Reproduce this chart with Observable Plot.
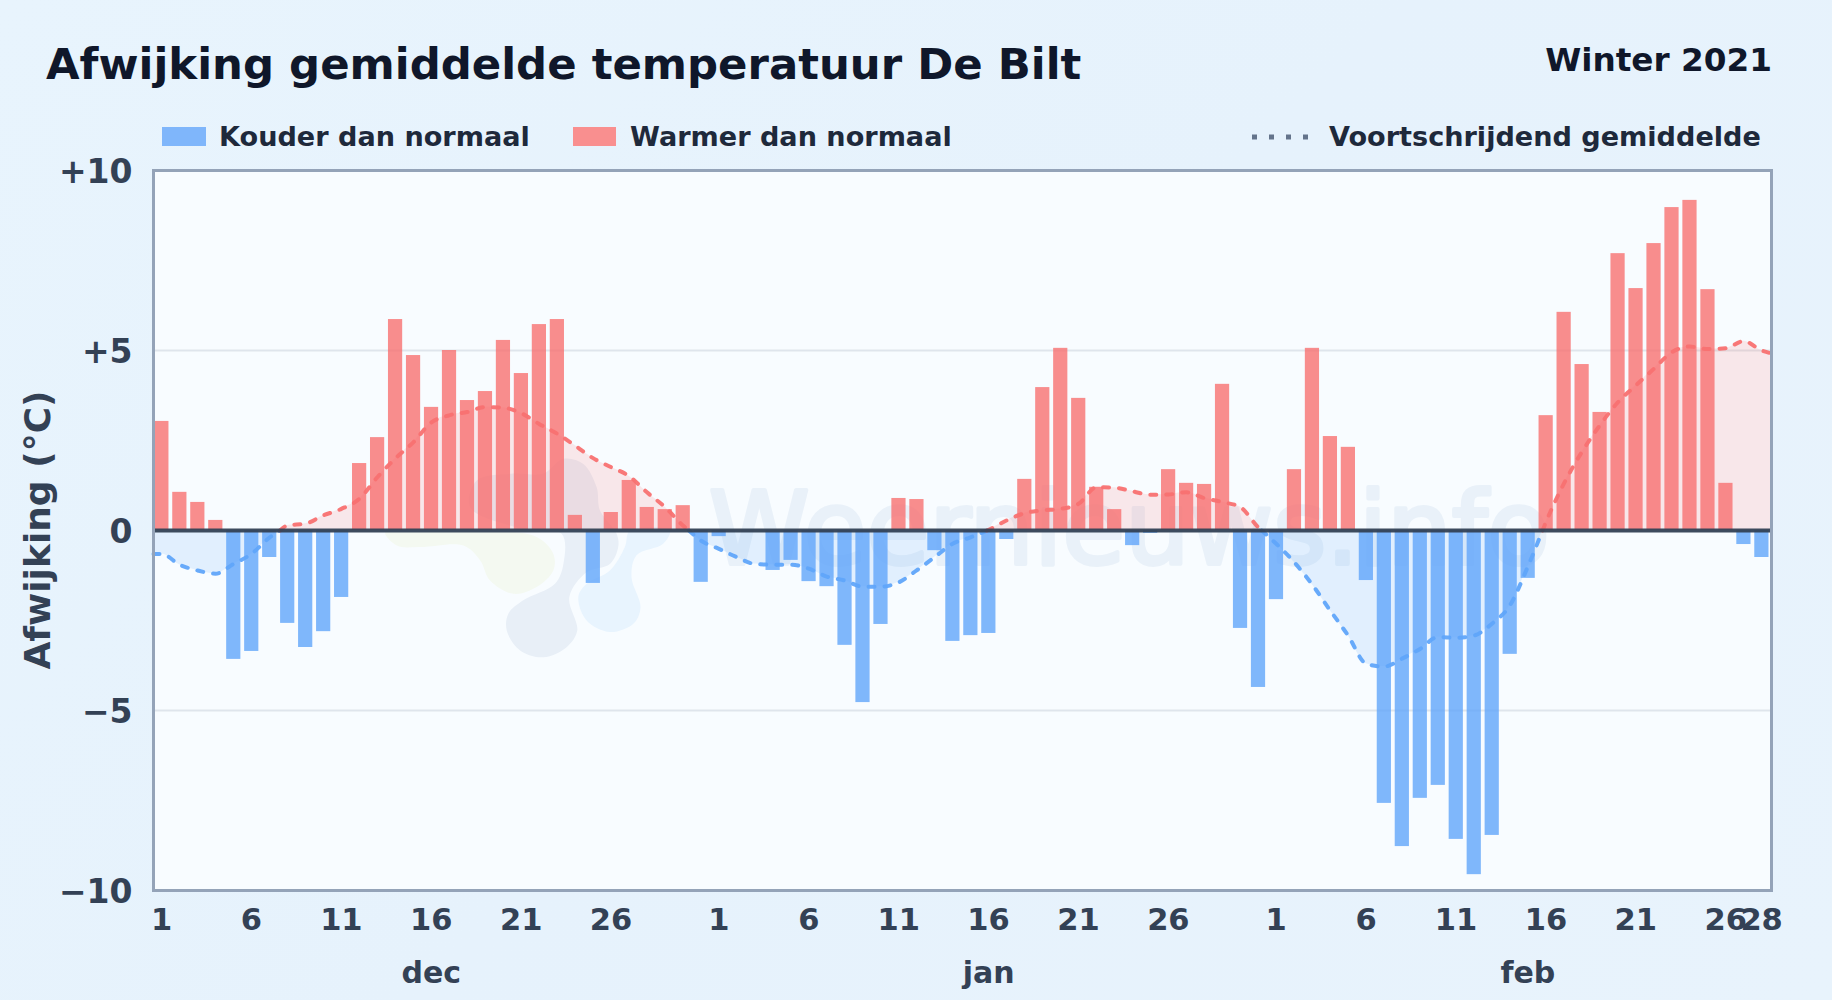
<!DOCTYPE html>
<html lang="nl">
<head>
<meta charset="utf-8">
<title>Afwijking gemiddelde temperatuur De Bilt</title>
<script src="https://cdn.jsdelivr.net/npm/d3@7"></script>
<script src="https://cdn.jsdelivr.net/npm/@observablehq/plot@0.6"></script>
<style>
  html, body { margin: 0; padding: 0; }
  body {
    width: 1832px; height: 1000px; position: relative; overflow: hidden;
    background: linear-gradient(135deg, #e8f4fd 0%, #e6f2fc 50%, #e8f3fc 100%);
    font-family: "DejaVu Sans", sans-serif; font-weight: 700;
  }
  .t { position: absolute; white-space: nowrap; line-height: 1; }
  #title { left: 46px; top: 43px; font-size: 43.4px; color: #0f172a; }
  #season { right: 60px; top: 44px; font-size: 32.7px; color: #0f172a; }
  .leg { top: 123px; font-size: 27.1px; color: #1e293b; }
  .sw { position: absolute; top: 127px; height: 19px; }
  #ylab { left: 38px; top: 530px; font-size: 36px; color: #334155; transform: translate(-50%, -50%) rotate(-90deg); }
  #chart { position: absolute; left: 0; top: 0; }
  #dots { position: absolute; left: 1252px; top: 132px; }
</style>
</head>
<body>
<div id="chart"></div>
<div class="t" id="title">Afwijking gemiddelde temperatuur De Bilt</div>
<div class="t" id="season">Winter 2021</div>
<div class="sw" style="left:162px;width:44px;background:#7fb6fb"></div>
<div class="t leg" style="left:219px">Kouder dan normaal</div>
<div class="sw" style="left:573px;width:43px;background:#f98f8f"></div>
<div class="t leg" style="left:630px">Warmer dan normaal</div>
<svg id="dots" width="62" height="10"><line x1="0" x2="62" y1="5" y2="5" stroke="#64748b" stroke-width="5" stroke-dasharray="5 12"/></svg>
<div class="t leg" style="left:1329px">Voortschrijdend gemiddelde</div>
<div class="t" id="ylab">Afwijking (°C)</div>
<script>
// Daily deviation (°C), 1 Dec – 28 Feb
const december = [3.03,1.06,0.78,0.28,-3.58,-3.36,-0.75,-2.58,-3.25,-2.81,-1.86,1.86,2.58,5.86,4.86,3.42,5.0,3.61,3.86,5.28,4.36,5.72,5.86,0.42,-1.47,0.5,1.39,0.64,0.58,0.69,-1.44];
const january  = [-0.17,0,0,-1.11,-0.83,-1.42,-1.56,-3.19,-4.78,-2.61,0.89,0.86,-0.56,-3.08,-2.92,-2.86,-0.25,1.42,3.97,5.06,3.67,1.2,0.58,-0.42,-0.08,1.69,1.31,1.28,4.06,-2.72,-4.36];
const february = [-1.92,1.69,5.06,2.61,2.31,-1.39,-7.58,-8.78,-7.44,-7.08,-8.58,-9.56,-8.47,-3.44,-1.33,3.19,6.06,4.61,3.28,7.69,6.72,7.97,8.97,9.17,6.69,1.31,-0.39,-0.75];
// Moving average (°C), read per day
const movingAverage = [-0.65,-0.95,-1.11,-1.2,-0.93,-0.65,-0.2,0.14,0.19,0.42,0.6,0.88,1.48,2.0,2.45,3.0,3.2,3.29,3.43,3.41,3.26,2.96,2.69,2.36,2.01,1.76,1.51,1.06,0.65,0.14,-0.28,
  -0.51,-0.74,-0.93,-0.95,-0.95,-1.06,-1.28,-1.39,-1.56,-1.56,-1.44,-1.11,-0.74,-0.37,-0.19,0.02,0.28,0.48,0.56,0.6,0.74,1.2,1.19,1.09,0.99,1.0,1.06,0.9,0.79,0.65,
  0.09,-0.37,-0.88,-1.5,-2.22,-2.92,-3.7,-3.78,-3.56,-3.29,-2.96,-2.98,-2.92,-2.59,-2.08,-1.0,0.23,1.3,2.18,2.92,3.56,4.03,4.49,4.95,5.11,5.04,5.06,5.26,5.0];
// Axis labels
const tickDays = [1,6,11,16,21,26, 1,6,11,16,21,26, 1,6,11,16,21,26,28];
const tickIndex = [0,5,10,15,20,25, 31,36,41,46,51,56, 62,67,72,77,82,87,89];
const months = ["dec","jan","feb"];
const monthIndex = [15,46,76];
const yTicks = [-10,-5,0,5,10];
const yLabels = ["\u221210","\u22125","0","+5","+10"];
// Watermark logo outlines
const logoSlate = [[22.7,-.09],[22.8,-.93],[22.33,-1.48],[20.57,-1.94],[19.74,-2.31],[19.65,-2.78],[20.39,-3.33],[21.69,-3.52],[22.98,-3.24],[23.57,-2.78],[23.13,-1.85],[24.09,-1.16],[25.39,-.93],[25.85,-.46],[25.76,-.09],[24.83,.56],[24.65,1.2],[23.91,1.85],[22.8,1.99],[21.69,1.58],[20.02,1.58],[17.98,1.39],[17.61,.65],[20.2,.09]];
const logoGreen = [[12.89,-.05],[13.54,-.42],[14.83,-.46],[17.24,-.42],[18.17,-.83],[18.72,-1.39],[20.02,-1.76],[21.31,-1.57],[22.24,-1.11],[22.24,-.65],[21.31,-.18],[17.61,0]];
const logoBlue = [[23.63,-1.85],[24.09,-2.5],[25.39,-2.82],[26.69,-2.59],[27.09,-2.13],[26.59,-1.3],[26.87,-.69],[28.35,-.37],[28.72,0],[26.5,0],[26.22,-.46],[25.39,-1.11],[24.09,-1.48]];

const RED = "#f87171", BLUE = "#60a5fa", BAR_W = 0.79, MID = 0.45;
const values = [...december, ...january, ...february];
const bars = values.map((v, i) => ({i, v})).filter(d => d.v !== 0);

// Moving-average line runs edge to edge and is split at each zero crossing
const maPts = [{x: 0, y: movingAverage[0]}, ...movingAverage.map((y, i) => ({x: i + MID, y})), {x: 90, y: movingAverage[89] - 0.08}];
const segs = [];
let seg = 0;
maPts.forEach((p, k) => {
  const q = maPts[k - 1];
  if (q && q.y * p.y < 0) {
    const xz = q.x + (p.x - q.x) * q.y / (q.y - p.y);
    segs.push({x: xz, y: 0, seg, sign: q.y < 0 ? "neg" : "pos"});
    seg++;
    segs.push({x: xz, y: 0, seg, sign: p.y < 0 ? "neg" : "pos"});
  }
  segs.push({x: p.x, y: p.y, seg, sign: p.y < 0 ? "neg" : "pos"});
});
const color = s => s === "neg" ? BLUE : RED;
const blob = (pts, fill) => Plot.line(pts, {x: d => d[0], y: d => d[1], curve: "catmull-rom-closed", fill, stroke: "none"});

const chart = Plot.plot({
  width: 1832, height: 1000,
  marginLeft: 153, marginRight: 61, marginTop: 170, marginBottom: 110,
  style: {background: "transparent", fontFamily: "'DejaVu Sans', sans-serif", fontWeight: 700, overflow: "visible"},
  x: {domain: [0, 90], axis: null},
  y: {domain: [-10, 10], axis: null},
  marks: [
    Plot.frame({fill: "#f8fcff", stroke: "none"}),
    Plot.text(["Weernieuws.info"], {x: [31], y: [0], text: d => d, dx: -2, dy: 1, textAnchor: "start", fontSize: 102, fontWeight: 400, fill: "#e9f1f9", stroke: "#e9f1f9", strokeWidth: 4}),
    blob(logoGreen, "#f4f9f1"),
    blob(logoSlate, "#e8eff7"),
    blob(logoBlue, "#e8f4fe"),
    Plot.ruleY([5, -5], {stroke: "#dfe5ec", strokeWidth: 2}),
    Plot.areaY(segs, {x: "x", y1: 0, y2: "y", z: "seg", fill: d => color(d.sign), fillOpacity: 0.15, curve: "monotone-x"}),
    Plot.rectY(bars, {x1: d => d.i + 0.07, x2: d => d.i + 0.07 + BAR_W, y1: 0, y2: "v", fill: d => d.v < 0 ? BLUE : RED, fillOpacity: 0.8}),
    Plot.line(segs, {x: "x", y: "y", z: "seg", stroke: d => color(d.sign), strokeWidth: 4, strokeDasharray: "6 10", strokeLinecap: "round", strokeOpacity: 0.95, curve: "monotone-x"}),
    Plot.ruleY([0], {stroke: "#334155", strokeWidth: 4, strokeOpacity: 0.95}),
    Plot.frame({stroke: "#94a3b8", strokeWidth: 3}),
    Plot.axisY({ticks: yTicks, tickSize: 0, tickPadding: 21, dy: 1.5, tickFormat: d => yLabels[yTicks.indexOf(d)], fontSize: 33, fill: "#334155", label: null}),
    Plot.axisX({ticks: tickIndex.map(i => i + MID), tickSize: 0, tickPadding: 18, tickFormat: (d, k) => tickDays[k], fontSize: 30.5, fill: "#334155", label: null}),
    Plot.text(months, {x: (d, k) => monthIndex[k] + MID, y: () => -10, text: d => d, dy: 83, fontSize: 30, fill: "#334155"})
  ]
});
document.getElementById("chart").append(chart);
</script>
</body>
</html>
